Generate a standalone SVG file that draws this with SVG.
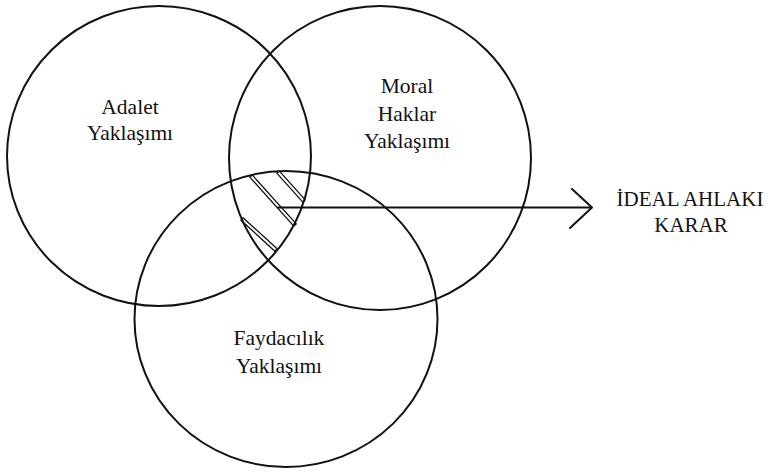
<svg xmlns="http://www.w3.org/2000/svg" width="777" height="473" viewBox="0 0 777 473">
  <style>
    .ring { fill: none; stroke: #111; stroke-width: 2; }
    .hatch { fill: none; stroke: #111; stroke-width: 1.3; stroke-linejoin: round; }
    .conn { fill: none; stroke: #111; stroke-width: 2; stroke-linecap: round; stroke-linejoin: round; }
  </style>
  <rect width="777" height="473" fill="#fff"/>

  <g id="adalet">
    <ellipse class="ring" cx="159" cy="156" rx="152" ry="150"/>
    <g font-family="Liberation Serif, serif" font-size="21.5" fill="#111" text-anchor="middle">
      <text x="130" y="114">Adalet</text>
      <text x="130" y="140">Yaklaşımı</text>
    </g>
  </g>

  <g id="moral-haklar">
    <ellipse class="ring" cx="380" cy="158" rx="151" ry="152"/>
    <g font-family="Liberation Serif, serif" font-size="21.5" fill="#111" text-anchor="middle">
      <text x="407" y="93">Moral</text>
      <text x="407" y="121">Haklar</text>
      <text x="407" y="148">Yaklaşımı</text>
    </g>
  </g>

  <g id="faydacilik">
    <ellipse class="ring" cx="286" cy="319" rx="151.5" ry="148"/>
    <g font-family="Liberation Serif, serif" font-size="21.5" fill="#111" text-anchor="middle">
      <text x="279" y="345">Faydacılık</text>
      <text x="279" y="373">Yaklaşımı</text>
    </g>
  </g>

  <g id="kesisim-tarama">
    <polygon class="hatch" points="252.2,174.9 296.2,223.9 293.8,226.1 249.8,177.1"/>
    <polygon class="hatch" points="279.2,170.9 305.2,199.9 302.8,202.1 276.8,173.1"/>
    <polygon class="hatch" points="243.1,217.8 277.1,248.8 274.9,251.2 240.9,220.2"/>
  </g>

  <g id="ideal-ahlaki-karar">
    <g font-family="Liberation Serif, serif" font-size="21" fill="#111" text-anchor="middle">
      <text x="690" y="206">İDEAL AHLAKI</text>
      <text x="691" y="232">KARAR</text>
    </g>
  </g>

  <g id="connectors">
    <line class="conn" x1="278" y1="207.5" x2="591" y2="207.5"/>
    <polyline class="conn" points="572,189 592,207.5 570,228"/>
  </g>
</svg>
